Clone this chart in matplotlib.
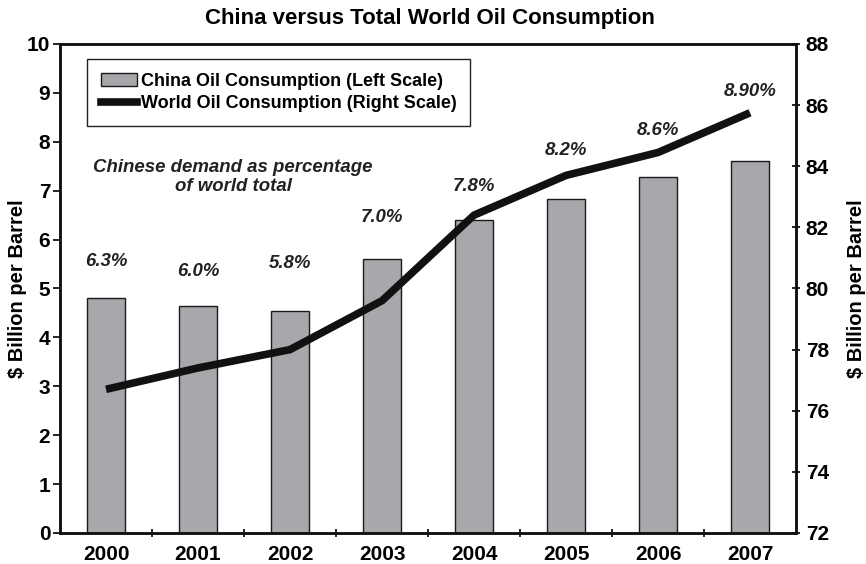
import matplotlib.pyplot as plt
from matplotlib.patches import Patch
from matplotlib.lines import Line2D

plt.rcParams['font.family'] = ['Liberation Sans', 'DejaVu Sans']
plt.rcParams['font.weight'] = 'bold'

years = ["2000", "2001", "2002", "2003", "2004", "2005", "2006", "2007"]
china = [4.81, 4.65, 4.54, 5.60, 6.41, 6.83, 7.28, 7.61]
world = [76.7, 77.4, 78.0, 79.6, 82.4, 83.7, 84.45, 85.75]
pct_labels = ["6.3%", "6.0%", "5.8%", "7.0%", "7.8%", "8.2%", "8.6%", "8.90%"]

# where the percentage labels sit (left-scale units)
label_y = [5.56, 5.34, 5.52, 6.46, 7.08, 7.83, 8.24, 9.02]


def main():
    fig = plt.figure(figsize=(8.66, 5.64), dpi=100)
    ax = fig.add_axes([0.0693, 0.055, 0.8499, 0.867])
    x = list(range(len(years)))

    ax.bar(x, china, width=0.41, color="#a7a8ab", edgecolor="#1a1a1a", linewidth=1.0, zorder=2)
    ax.set_xlim(-0.5, len(years) - 0.5)
    ax.set_ylim(0, 10)
    ax.set_yticks(range(0, 11))
    ax.set_xticks(x)
    ax.set_xticklabels(years, fontsize=15, fontweight="bold")
    ax.set_xticks([i + 0.5 for i in x[:-1]], minor=True)
    ax.tick_params(axis="x", which="major", length=0, pad=9)
    ax.tick_params(axis="x", which="minor", length=6, width=1.2, direction="inout")
    ax.tick_params(axis="y", labelsize=15, length=5, width=1.2, pad=2)
    for lab in ax.get_yticklabels():
        lab.set_fontweight("bold")
    ax.set_ylabel("$ Billion per Barrel", fontsize=14.5, fontweight="bold", labelpad=0)

    ax2 = ax.twinx()
    ax2.plot(x, world, color="#111111", linewidth=5.5, solid_capstyle="butt", zorder=3)
    ax2.set_ylim(72, 88)
    ax2.set_yticks(range(72, 89, 2))
    ax2.tick_params(axis="y", labelsize=15, length=6, width=1.2, direction="inout", pad=4)
    for lab in ax2.get_yticklabels():
        lab.set_fontweight("bold")
    ax2.set_ylabel("$ Billion per Barrel", fontsize=14.5, fontweight="bold", labelpad=13)

    for a in (ax, ax2):
        for s in a.spines.values():
            s.set_linewidth(1.8)
            s.set_color("#111111")

    for i, t in enumerate(pct_labels):
        ax.text(i, label_y[i], t, ha="center", va="center", fontsize=13.4,
                fontweight="bold", style="italic", color="#222222")

    ax.text(1.38, 7.28, "Chinese demand as percentage\nof world total", ha="center", va="center",
            fontsize=13.4, fontweight="bold", style="italic", color="#222222", linespacing=1.1)

    handles = [Patch(facecolor="#a7a8ab", edgecolor="#1a1a1a", linewidth=1.0),
               Line2D([0], [0], color="#111111", linewidth=5.5)]
    names = ["China Oil Consumption (Left Scale)", "World Oil Consumption (Right Scale)"]
    leg = ax2.legend(handles, names, loc="upper left", bbox_to_anchor=(0.0367, 0.969),
                     borderaxespad=0, fancybox=False, framealpha=1, edgecolor="#222222",
                     fontsize=13, handlelength=2.0, handletextpad=0.25, borderpad=0.75,
                     labelspacing=0.3)
    leg.get_frame().set_linewidth(1.0)
    for t in leg.get_texts():
        t.set_fontweight("bold")

    fig.suptitle("China versus Total World Oil Consumption", x=0.497, y=0.985,
                 fontsize=16, fontweight="bold")
    fig.savefig("out.png", dpi=100)


if __name__ == '__main__':
    main()
